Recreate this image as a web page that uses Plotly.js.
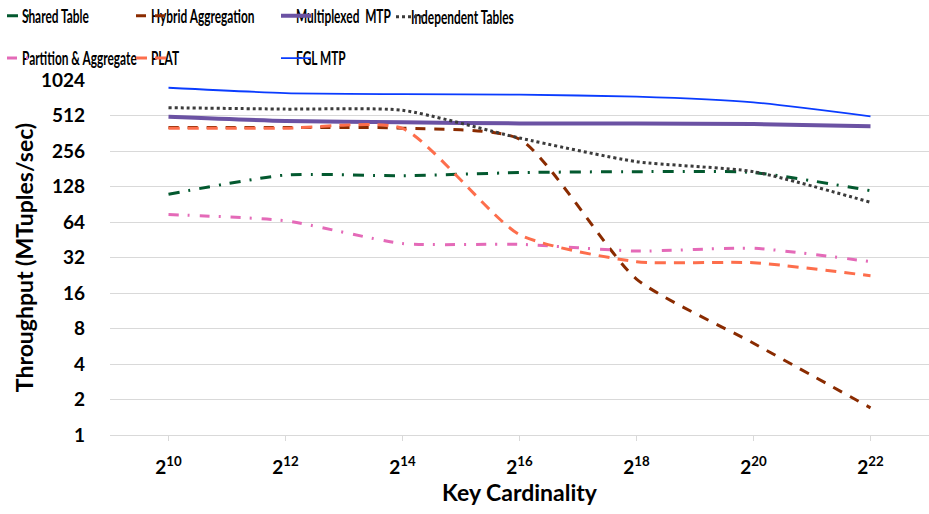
<!DOCTYPE html>
<html>
<head>
<meta charset="utf-8">
<script src="https://cdn.plot.ly/plotly-3.0.1.min.js"></script>
<style>
html,body{margin:0;padding:0;background:#fff;}
#chart{width:929px;height:514px;}
/* condensed legend look: short symbols, narrow text close to the symbol */
#chart g.traces g.legendsymbols{transform:scale(0.55,1);}
#chart g.traces text{transform:translate(-6.4px,0) scale(0.66,1);}
</style>
</head>
<body>
<div id="chart"></div>
<script>
// Categories (key cardinality) and tick labels
const categories = ["2^10", "2^12", "2^14", "2^16", "2^18", "2^20", "2^22"];
const xTickText = ["2<sup>10</sup>", "2<sup>12</sup>", "2<sup>14</sup>", "2<sup>16</sup>", "2<sup>18</sup>", "2<sup>20</sup>", "2<sup>22</sup>"];
const yTickVals = [1, 2, 4, 8, 16, 32, 64, 128, 256, 512, 1024];
const yTickText = ["1", "2", "4", "8", "16", "32", "64", "128", "256", "512", "1024"];

// Throughput (MTuples/sec) per series
const sharedTable      = [110, 160, 158, 168, 171, 168, 118];
const hybridAgg        = [405, 405, 400, 323, 21, 6, 1.7];
const multiplexedMTP   = [500, 460, 448, 439, 439, 433, 416];
const independentTabs  = [596, 580, 567, 330, 208, 171, 94];
const partitionAgg     = [74, 65.6, 42, 41.4, 36.3, 38.3, 29.5];
const plat             = [400, 400, 398, 50, 29.5, 28.9, 22.4];
const fglMTP           = [880, 793, 777, 769, 739, 662, 504];

const FONT = "Lato, 'Open Sans', sans-serif";
const PLOT_L = 110, PLOT_W = 819;

function tr(name, y, color, width, dash, legend) {
  return {
    type: "scatter", mode: "lines", name: name, legendgroup: name,
    x: categories, y: y,
    line: {color: color, width: width, dash: dash, shape: "spline", smoothing: 0.6},
    legend: legend
  };
}

const data = [
  tr("Shared Table", sharedTable, "#03592f", 3, "11px,9px,2px,9px", "legend"),
  tr("Hybrid Aggregation", hybridAgg, "#8a2b00", 3, "10px,9px", "legend2"),
  tr("Multiplexed  MTP", multiplexedMTP, "#6b52a3", 4, "solid", "legend3"),
  tr("Independent Tables", independentTabs, "#3b3b3b", 3, "dot", "legend4"),
  tr("Partition & Aggregate", partitionAgg, "#e46ab8", 3, "10px,9px,2px,10px", "legend"),
  tr("PLAT", plat, "#fd6e4c", 3, "11px,8px", "legend2"),
  tr("FGL MTP", fglMTP, "#0a3cff", 1.8, "solid", "legend3")
];

function legendAt(px, yCenter) {
  return {
    orientation: "v",
    xref: "paper", yref: "container",
    x: (px - PLOT_L) / PLOT_W, xanchor: "left",
    y: 1 - yCenter / 514, yanchor: "middle",
    font: {family: FONT, size: 18, color: "#000", weight: "bold"},
    bgcolor: "rgba(0,0,0,0)",
    itemwidth: 30,
    tracegroupgap: 16,
    traceorder: "grouped",
    itemclick: false, itemdoubleclick: false
  };
}

const layout = {
  width: 929, height: 514,
  margin: {l: 110, r: 0, t: 80, b: 79},
  paper_bgcolor: "#fff", plot_bgcolor: "#fff",
  showlegend: true,
  legend: legendAt(2, 37),
  legend2: legendAt(131, 37),
  legend3: legendAt(276, 37),
  legend4: legendAt(391, 17),
  xaxis: {
    type: "category",
    range: [-0.5, 6.5],
    tickvals: categories, ticktext: xTickText,
    ticks: "outside", ticklen: 5, tickcolor: "#d9d9d9", tickwidth: 1,
    showline: true, linecolor: "#d9d9d9", linewidth: 1,
    showgrid: false, zeroline: false,
    ticklabelstandoff: 10,
    tickfont: {family: FONT, size: 19, color: "#000", weight: "bold"},
    title: {text: "Key Cardinality", font: {family: FONT, size: 23, color: "#000", weight: "bold"}, standoff: 6},
    automargin: false, fixedrange: true
  },
  yaxis: {
    type: "log",
    range: [0, Math.log10(1024)],
    tickvals: yTickVals, ticktext: yTickText,
    ticks: "", showline: false,
    showgrid: true, gridcolor: "#d9d9d9", gridwidth: 1,
    zeroline: false,
    ticklabelstandoff: 24,
    tickfont: {family: FONT, size: 19, color: "#000", weight: "bold"},
    title: {text: "Throughput (MTuples/sec)", font: {family: FONT, size: 23, color: "#000", weight: "bold"}, standoff: 0},
    automargin: false, fixedrange: true
  }
};

Plotly.newPlot("chart", data, layout, {displayModeBar: false, staticPlot: true});
</script>
</body>
</html>
